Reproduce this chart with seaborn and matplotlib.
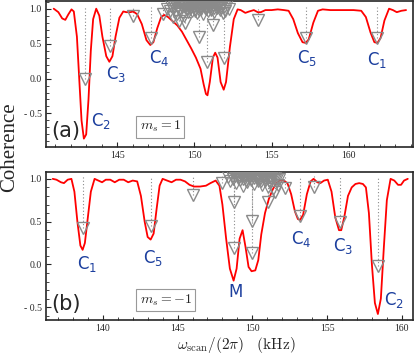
import numpy as np
import seaborn as sns
import matplotlib
matplotlib.use("Agg")
from matplotlib import pyplot as plt
from matplotlib.ticker import MultipleLocator, FuncFormatter

# ---- panel (a): m_s = 1 ----
freq_a = [140.9, 141.2, 141.45, 141.65, 141.85, 142.05, 142.2, 142.4, 142.55, 142.7,
          142.85, 143.0, 143.15, 143.3, 143.45, 143.65, 143.85, 144.05, 144.3, 144.5,
          144.7, 144.9, 145.15, 145.4, 145.6, 145.85, 146.05, 146.3, 146.6, 146.9,
          147.15, 147.35, 147.6, 147.85, 148.05, 148.3, 148.6, 148.9, 149.2, 149.5,
          149.8, 150.1, 150.4, 150.6, 150.75, 150.85, 151.0, 151.2, 151.35, 151.5,
          151.7, 151.9, 152.05, 152.3, 152.55, 152.8, 153.0, 153.3, 153.55, 153.85,
          154.1, 154.3, 154.6, 155.0, 155.4, 155.8, 156.1, 156.4, 156.7, 157.0,
          157.2, 157.4, 157.7, 158.0, 158.3, 158.8, 159.5, 160.3, 160.8, 161.1,
          161.4, 161.65, 161.85, 162.05, 162.3, 162.6, 162.85, 163.1, 163.4, 163.7]
coh_a = [1.00, 0.95, 0.86, 0.84, 0.92, 0.99, 0.96, 0.60, 0.00, -0.60,
         -0.86, -0.80, -0.30, 0.40, 0.85, 1.00, 0.90, 0.60, 0.32, 0.24,
         0.32, 0.60, 0.87, 0.96, 0.95, 0.95, 0.96, 0.92, 0.78, 0.55,
         0.48, 0.52, 0.72, 0.88, 0.91, 0.88, 0.82, 0.76, 0.67, 0.55,
         0.43, 0.30, 0.14, -0.08, -0.22, -0.24, -0.05, 0.30, 0.37, 0.30,
         -0.05, -0.16, -0.05, 0.45, 0.85, 0.99, 0.98, 0.94, 0.96, 0.98,
         0.95, 0.95, 0.98, 0.98, 0.99, 0.98, 0.97, 0.85, 0.65, 0.52,
         0.51, 0.56, 0.80, 0.97, 0.99, 0.98, 0.98, 0.98, 0.97, 0.88,
         0.66, 0.52, 0.51, 0.58, 0.83, 1.00, 0.98, 0.95, 0.97, 0.98]

spin_x_a = [142.9, 144.55, 146.0, 147.2, 148.0, 148.6, 149.0, 149.4, 150.3, 150.8,
            151.2, 151.9, 151.85, 154.1, 157.2, 161.8]
spin_y_a = [-0.01, 0.47, 0.90, 0.58, 0.92, 0.88, 0.82, 0.80, 0.59, 0.24,
            0.77, 0.30, 0.94, 0.84, 0.58, 0.58]
cluster_x_a = [148.25, 148.4, 148.5, 148.65, 148.75, 148.85, 148.95, 149.05, 149.1, 149.2,
               149.3, 149.35, 149.45, 149.55, 149.6, 149.7, 149.8, 149.85, 149.95, 150.05,
               150.1, 150.2, 150.25, 150.35, 150.4, 150.5, 150.55, 150.65, 150.7, 150.8,
               150.9, 150.95, 151.05, 151.1, 151.2, 151.3, 151.35, 151.45, 151.55, 151.65,
               151.75, 151.9, 152.0, 152.1, 152.25,
               148.55, 148.7, 148.9, 149.0, 149.15, 149.25, 149.4, 149.5, 149.65, 149.75,
               149.9, 150.0, 150.15, 150.3, 150.45, 150.6, 150.75, 150.85, 151.0, 151.15,
               151.25, 151.4, 151.5, 151.6, 151.7, 151.85, 149.05, 149.55, 150.05, 150.55,
               151.05, 149.3, 149.8, 150.3, 150.8, 151.3]
cluster_y_a = [1.00, 0.97, 1.04, 0.99, 1.06, 0.93, 1.02, 1.07, 0.96, 1.03,
               0.90, 1.08, 1.00, 1.05, 0.95, 1.08, 1.02, 0.97, 1.06, 1.00,
               1.08, 0.94, 1.04, 1.07, 0.99, 1.05, 0.92, 1.08, 1.01, 1.06,
               0.97, 1.04, 1.08, 0.99, 1.05, 0.95, 1.07, 1.01, 1.06, 0.98,
               1.04, 1.02, 0.97, 1.05, 1.00,
               1.09, 1.03, 1.10, 0.98, 1.09, 1.06, 1.02, 1.10, 1.03, 0.99,
               1.10, 1.04, 1.02, 1.10, 1.02, 1.04, 0.99, 1.10, 1.03, 1.09,
               1.01, 1.10, 1.03, 1.09, 1.01, 1.07, 1.10, 1.00, 0.96, 1.10,
               0.98, 1.04, 1.06, 0.98, 1.03, 1.10]
labels_a = ['C$_2$', 'C$_3$', 'C$_4$', 'C$_5$', 'C$_1$']
label_x_a = [143.95, 144.95, 147.75, 157.3, 161.85]
label_y_a = [-0.61, 0.07, 0.29, 0.29, 0.27]

# ---- panel (b): m_s = -1 ----
freq_b = [136.65, 136.9, 137.2, 137.4, 137.65, 137.9, 138.1, 138.3, 138.5, 138.65,
          138.8, 139.0, 139.2, 139.45, 139.7, 139.95, 140.2, 140.5, 140.8, 141.1,
          141.4, 141.7, 142.0, 142.3, 142.55, 142.8, 143.0, 143.2, 143.4, 143.6,
          143.8, 144.0, 144.3, 144.6, 144.9, 145.2, 145.5, 145.8, 146.1, 146.5,
          146.9, 147.2, 147.55, 147.8, 148.0, 148.25, 148.5, 148.75, 148.95, 149.15,
          149.35, 149.55, 149.75, 149.95, 150.2, 150.4, 150.6, 150.85, 151.1, 151.35,
          151.6, 151.85, 152.1, 152.35, 152.6, 152.85, 153.05, 153.2, 153.4, 153.65,
          153.9, 154.1, 154.35, 154.55, 154.8, 155.05, 155.3, 155.55, 155.8, 155.95,
          156.15, 156.4, 156.65, 156.9, 157.15, 157.4, 157.6, 157.8, 158.0, 158.2,
          158.4, 158.6, 158.8, 159.0, 159.25, 159.5, 159.75, 159.95, 160.15, 160.4]
coh_b = [1.00, 0.99, 0.96, 0.95, 0.99, 1.00, 0.85, 0.50, 0.22, 0.17,
         0.25, 0.55, 0.85, 1.00, 0.98, 0.96, 0.99, 0.99, 0.96, 0.99,
         0.99, 0.96, 0.98, 0.97, 0.80, 0.50, 0.32, 0.29, 0.36, 0.65,
         0.92, 1.00, 0.98, 0.96, 0.99, 0.99, 0.97, 0.93, 0.91, 0.91,
         0.92, 0.95, 0.98, 0.92, 0.70, 0.30, -0.05, -0.19, -0.05, 0.30,
         0.40, 0.20, -0.03, -0.08, -0.07, 0.05, 0.35, 0.60, 0.76, 0.87,
         0.95, 0.98, 0.98, 0.95, 0.82, 0.62, 0.53, 0.52, 0.58, 0.82,
         0.97, 1.00, 0.96, 0.95, 0.98, 0.99, 0.85, 0.55, 0.40, 0.40,
         0.55, 0.80, 0.90, 0.94, 0.95, 0.94, 0.90, 0.60, 0.00, -0.45,
         -0.58, -0.40, 0.20, 0.75, 1.00, 0.98, 0.93, 0.93, 0.98, 1.00]

spin_x_b = [138.65, 143.2, 146.0, 147.95, 148.75, 148.75, 150.0, 150.0, 151.05, 151.5,
            152.2, 153.2, 154.1, 155.85, 158.4]
spin_y_b = [0.42, 0.45, 0.81, 0.95, 0.19, 0.73, 0.13, 0.51, 0.73, 0.85,
            0.89, 0.56, 0.90, 0.49, -0.02]
cluster_x_b = [148.35, 148.5, 148.6, 148.7, 148.8, 148.9, 149.0, 149.1, 149.15, 149.25,
               149.35, 149.4, 149.5, 149.6, 149.65, 149.75, 149.85, 149.9, 150.0, 150.1,
               150.15, 150.25, 150.35, 150.4, 150.5, 150.6, 150.65, 150.75, 150.85, 150.95,
               151.05, 151.1, 151.2, 151.3, 151.4, 151.5, 151.6, 151.7, 151.8,
               148.65, 148.85, 148.95, 149.05, 149.2, 149.3, 149.45, 149.55, 149.7, 149.8,
               149.95, 150.05, 150.2, 150.3, 150.45, 150.55, 150.7, 150.8, 150.9, 151.0,
               151.15, 151.25, 151.35, 151.45, 151.55, 151.65, 149.1, 149.6, 150.1, 150.6,
               151.1, 149.35, 149.85, 150.35, 150.85]
cluster_y_b = [1.02, 0.97, 1.06, 1.00, 1.08, 0.95, 1.04, 1.08, 0.99, 1.05,
               0.92, 1.07, 1.01, 1.08, 0.96, 1.04, 1.08, 0.99, 1.05, 0.94,
               1.08, 1.02, 0.97, 1.06, 1.00, 1.08, 0.93, 1.04, 0.98, 1.07,
               0.90, 1.02, 0.96, 1.05, 0.88, 0.99, 1.04, 0.93, 1.00,
               1.09, 1.03, 1.09, 1.01, 1.09, 1.03, 1.09, 1.04, 1.09, 1.01,
               1.09, 1.03, 1.09, 1.01, 1.09, 1.04, 1.09, 1.02, 1.09, 1.05,
               1.09, 1.01, 1.09, 1.03, 1.09, 1.00, 1.02, 0.98, 1.01, 0.97,
               0.98, 1.00, 1.03, 1.00, 1.01]
labels_b = ['C$_1$', 'C$_5$', 'M', 'C$_4$', 'C$_3$', 'C$_2$']
label_x_b = [138.95, 143.35, 148.85, 153.3, 156.05, 159.45]
label_y_b = [0.01, 0.08, -0.32, 0.30, 0.22, -0.42]

sns.set_style('ticks')
plt.rcParams['font.family'] = ['Liberation Serif', 'DejaVu Serif']
plt.rcParams['mathtext.fontset'] = 'cm'

blue = '#1c3f9e'
grey = '#8a8a8a'


def minus_fmt(v, pos):
    if v < 0:
        return '- %.1f' % abs(v)
    return '%.1f' % v


def draw_panel(ax, fx, fy, sx, sy, cx, cy, labs, lx, ly, tag, ms_text, ms_xy):
    ax.vlines(sx, sy, 1.03, colors=grey, linestyles=(0, (1, 2)), lw=0.8, zorder=1)
    sns.lineplot(x=fx, y=fy, sort=False, estimator=None, color='red', lw=1.3, ax=ax, zorder=2)
    ax.plot(sx, sy, ls='none', marker='v', ms=8, mfc='none', mec=grey, mew=1.0, zorder=3)
    ax.plot(cx, cy, ls='none', marker='v', ms=8, mfc='none', mec=grey, mew=0.9, zorder=3)
    for t, x, y in zip(labs, lx, ly):
        ax.text(x, y, t, color=blue, fontsize=12, family='DejaVu Sans',
                math_fontfamily='dejavusans', ha='center', va='center')
    ax.text(0.015, 0.11, tag, transform=ax.transAxes, fontsize=15, family='DejaVu Sans',
            ha='left', va='center')
    ax.text(ms_xy[0], ms_xy[1], ms_text, fontsize=10, ha='center', va='center',
            bbox=dict(boxstyle='square,pad=0.25', fc='white', ec='#999999', lw=0.8))
    ax.xaxis.set_major_locator(MultipleLocator(5))
    ax.xaxis.set_minor_locator(MultipleLocator(1))
    ax.yaxis.set_major_locator(MultipleLocator(0.5))
    ax.yaxis.set_minor_locator(MultipleLocator(0.1))
    ax.yaxis.set_major_formatter(FuncFormatter(minus_fmt))
    ax.xaxis.set_major_formatter(FuncFormatter(lambda v, p: '%d' % v))
    ax.tick_params(which='both', direction='in', labelsize=7, pad=3)
    ax.tick_params(which='major', length=3.5, width=0.8)
    ax.tick_params(which='minor', length=2, width=0.6)
    for s in ax.spines.values():
        s.set_linewidth(1.2)
    ax.set_xlabel('')
    ax.set_ylabel('')


fig = plt.figure(figsize=(4.16, 3.54), dpi=100)
ax1 = fig.add_axes([46 / 416, 1 - 147 / 354, 367 / 416, 146 / 354])
ax2 = fig.add_axes([46 / 416, 1 - 320 / 354, 367 / 416, 148 / 354])

draw_panel(ax1, freq_a, coh_a, spin_x_a, spin_y_a, cluster_x_a, cluster_y_a,
           labels_a, label_x_a, label_y_a, '(a)', r'$m_s = 1$', (147.8, -0.69))
ax1.set_xlim(140.4, 164.15)
ax1.set_ylim(-0.98, 1.11)

draw_panel(ax2, freq_b, coh_b, spin_x_b, spin_y_b, cluster_x_b, cluster_y_b,
           labels_b, label_x_b, label_y_b, '(b)', r'$m_s = -1$', (144.2, -0.42))
ax2.set_xlim(136.2, 160.75)
ax2.set_ylim(-0.65, 1.08)

fig.text(0.022, 0.585, 'Coherence', rotation=90, fontsize=15, ha='center', va='center')
fig.text(0.568, 0.025, r'$\omega_{\rm scan}/(2\pi)\quad({\rm kHz})$', fontsize=11,
         ha='center', va='center')

fig.savefig('out.png', dpi=100)
